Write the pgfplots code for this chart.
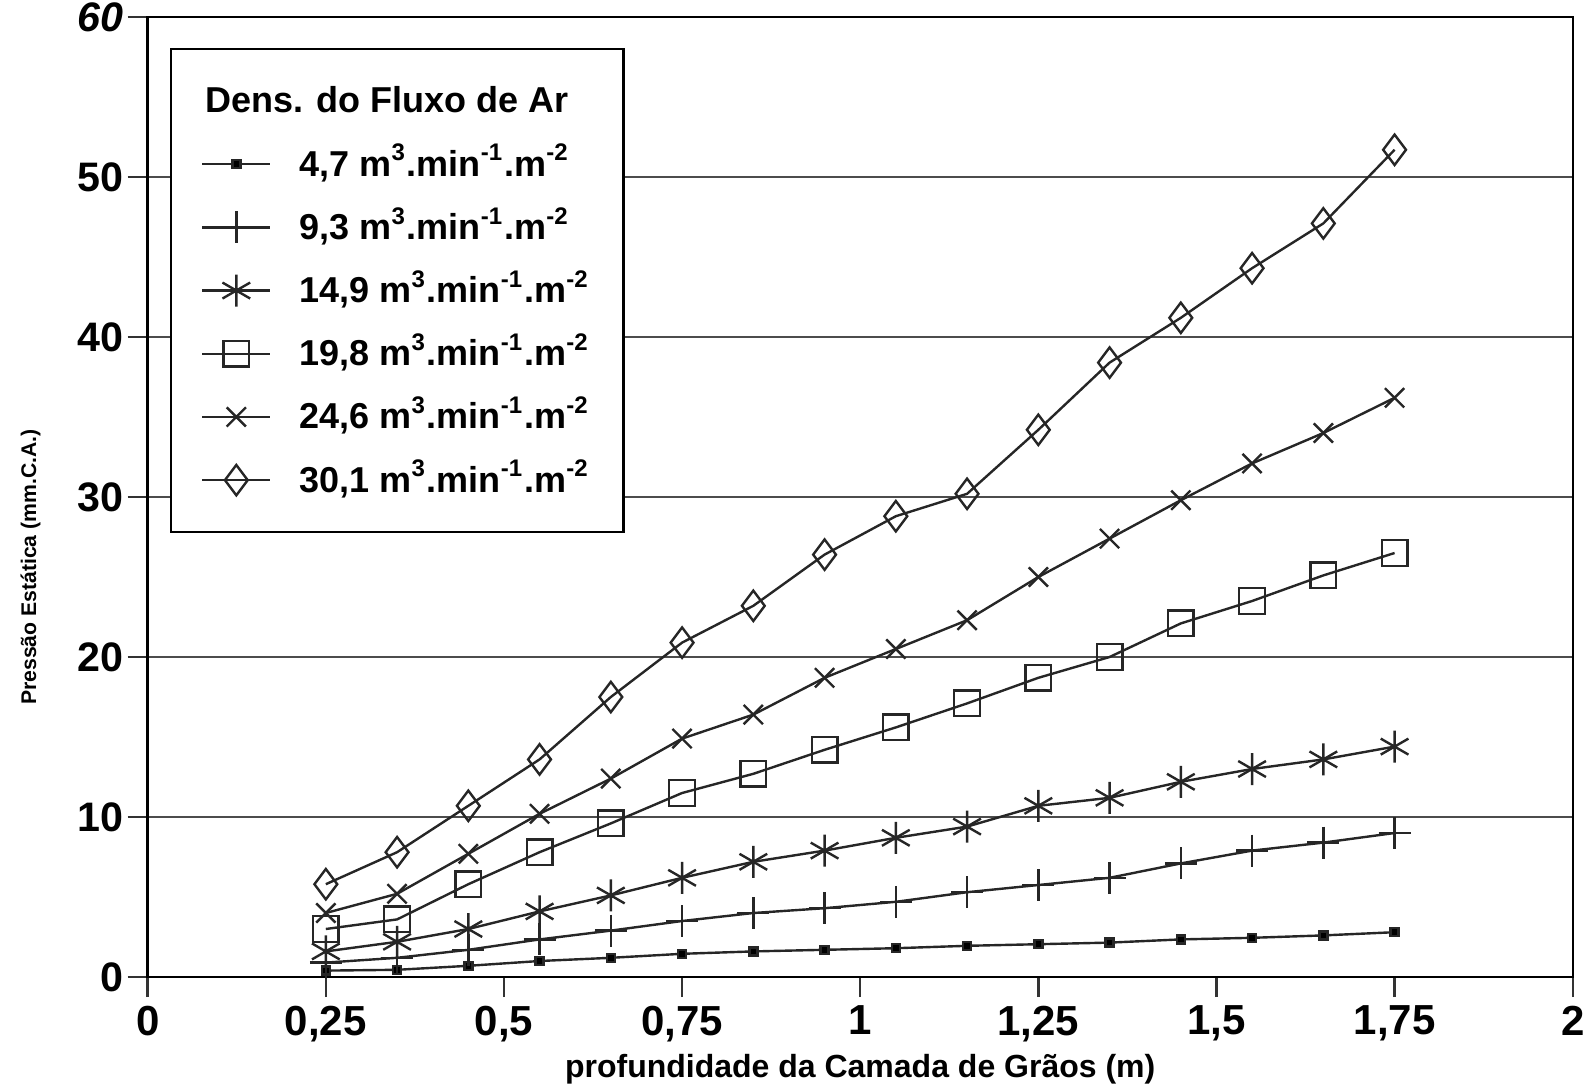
\documentclass[border=0pt]{standalone}
\usepackage{fontspec}
\setmainfont{Liberation Sans}
\usepackage{pgfplots}
\pgfplotsset{compat=1.18}

\pgfplotstableread{
x    a    b    c    d    e    f
0.25 0.40 0.9  1.6  3.0  4.0  5.8
0.35 0.45 1.2  2.2  3.6  5.2  7.8
0.45 0.70 1.7  3.0  5.8  7.7  10.7
0.55 1.00 2.35 4.1  7.8  10.2 13.6
0.65 1.20 2.9  5.1  9.6  12.4 17.5
0.75 1.45 3.5  6.2  11.5 14.9 20.9
0.85 1.60 4.0  7.2  12.7 16.4 23.2
0.95 1.70 4.3  7.9  14.2 18.7 26.4
1.05 1.80 4.7  8.7  15.6 20.5 28.8
1.15 1.95 5.3  9.4  17.1 22.3 30.2
1.25 2.05 5.75 10.7 18.7 25.0 34.2
1.35 2.15 6.2  11.2 20.0 27.4 38.4
1.45 2.35 7.1  12.2 22.1 29.8 41.2
1.55 2.45 7.9  13.0 23.5 32.1 44.3
1.65 2.60 8.4  13.6 25.1 34.0 47.1
1.75 2.80 9.0  14.4 26.5 36.2 51.7
}\dados

\newcommand{\unid}{~m\textsuperscript{3}.min\textsuperscript{-1}.m\textsuperscript{-2}}

\begin{document}
\begin{tikzpicture}
\begin{axis}[
  scale only axis, width=356.25pt, height=240pt,
  at={(0,0)}, anchor=south west,
  xmin=0, xmax=2, ymin=0, ymax=60,
  xtick={0,0.25,...,2},
  xticklabels={0,{0,25},{0,5},{0,75},1,{1,25},{1,5},{1,75},2},
  ytick={0,10,...,60},
  yticklabels={0,10,20,30,40,50,\raisebox{-2pt}{\textit{60}}},
  xtick pos=left, ytick pos=left,
  tick align=outside, major tick length=5pt,
  tick style={black!80, line width=0.6pt},
  ymajorgrids, grid style={black!70, line width=0.5pt},
  axis line style={black, line width=0.6pt},
  yticklabel style={font=\bfseries\fontsize{10.3}{12}\selectfont, xshift=2.5pt},
  xticklabel style={font=\bfseries\fontsize{10.5}{12}\selectfont, yshift=-1pt,
    inner ysep=1pt},
  xlabel={profundidade da Camada de Grãos (m)},
  xlabel style={font=\bfseries\fontsize{8}{9}\selectfont,
    at={(axis description cs:0.5,0)}, anchor=base, yshift=-25pt, inner ysep=0pt},
  ylabel={Pressão Estática (mm.C.A.)},
  ylabel style={font=\bfseries\fontsize{5.3}{6}\selectfont,
    at={(axis description cs:-0.0822,0.427)}, anchor=center},
  every axis plot/.append style={black!85, line width=0.6pt},
  legend image code/.code={\draw[mark repeat=2, mark phase=2, #1]
    plot coordinates {(0pt,0pt) (8.5pt,0pt) (17pt,0pt)};},
  legend style={at={(0.0156,0.968)}, anchor=north west,
    draw=black, line width=0.6pt, inner xsep=7.5pt, inner ysep=7pt,
    font=\bfseries\fontsize{9}{11}\selectfont,
    row sep=3.8pt,
    nodes={inner sep=1pt, text height=8pt, text depth=2pt},
    /tikz/every odd column/.append style={column sep=6pt},
    cells={anchor=west}},
]
\addlegendimage{empty legend}
\addlegendentry{\hspace*{-23.5pt}Dens. do Fluxo de Ar}
\addplot[mark=square*, mark size=1pt, mark options={fill=black}] table[x=x, y=a] {\dados};
\addlegendentry{4,7\unid}
\addplot[mark=+, mark size=4pt] table[x=x, y=b] {\dados};
\addlegendentry{9,3\unid}
\addplot[mark=asterisk, mark size=4pt] table[x=x, y=c] {\dados};
\addlegendentry{14,9\unid}
\addplot[mark=square, mark size=3.2pt] table[x=x, y=d] {\dados};
\addlegendentry{19,8\unid}
\addplot[mark=x, mark size=3.4pt] table[x=x, y=e] {\dados};
\addlegendentry{24,6\unid}
\addplot[mark=diamond, mark size=3.8pt] table[x=x, y=f] {\dados};
\addlegendentry{30,1\unid}
\end{axis}
\pgfresetboundingbox
\path (-36.925pt,-27pt) rectangle (362.075pt,244.25pt);
\end{tikzpicture}
\end{document}
